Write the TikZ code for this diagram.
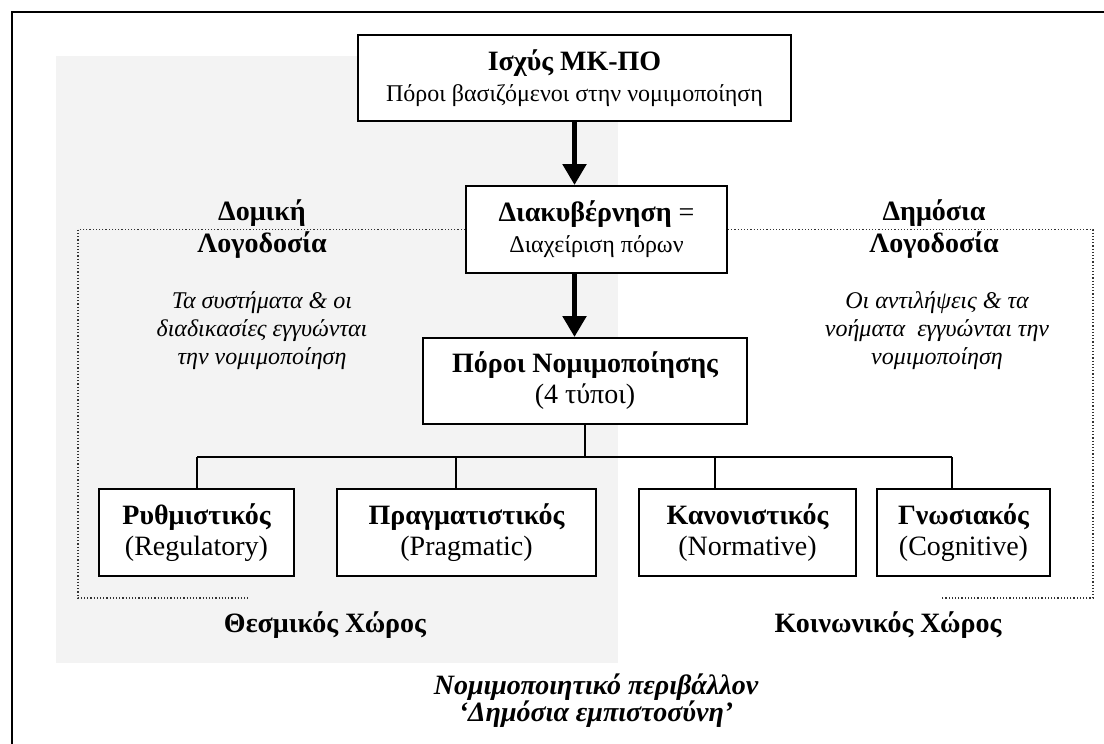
\documentclass[tikz,border=0pt]{standalone}
\usepackage{fontspec}
\setmainfont{Liberation Serif}
\usetikzlibrary{arrows.meta}
\definecolor{zonegray}{HTML}{F3F3F3}
\newcommand{\subline}{\fontsize{12}{15.5}\selectfont}

\begin{document}
\begin{tikzpicture}[x=0.5pt,y=-0.5pt,
  box/.style={draw,line width=1pt,fill=white,align=center,inner sep=0pt,
    font=\fontsize{14}{15.5}\selectfont},
  type box/.style={box,minimum width=#1,minimum height=43.5pt},
  head/.style={align=center,font=\fontsize{14}{16}\selectfont\bfseries},
  note/.style={align=center,font=\fontsize{12}{14}\selectfont\itshape},
  big arrow/.style={line width=2.6pt,-{Triangle[width=11.5pt,length=10.5pt]}},
  link/.style={line width=0.8pt}]

  \tikzstyle{dotline} = [densely dotted,line width=0.6pt,black!80]

  \useasboundingbox (0,0) rectangle (1104,744);

  % frame and institutional zone
  \draw[line width=1pt] (12,744) -- (12,12) -- (1104,12);
  \fill[zonegray] (56,56) rectangle (618,663);

  \node[box,minimum width=216.5pt,minimum height=43pt] (ischys) at (574.5,78)
    {{\bfseries Ισχύς ΜΚ-ΠΟ}\\{\subline Πόροι βασιζόμενοι στην νομιμοποίηση}};
  \node[box,minimum width=130.5pt,minimum height=43.5pt] (diak) at (596.5,229.5)
    {{\bfseries Διακυβέρνηση} =\\{\subline Διαχείριση πόρων}};
  \node[box,minimum width=162pt,minimum height=43pt] (poroi) at (585,381)
    {{\bfseries Πόροι Νομιμοποίησης}\\(4 τύποι)};

  \node[type box=97.5pt] (rythm) at (196.5,532.5) {{\bfseries Ρυθμιστικός}\\(Regulatory)};
  \node[type box=129.5pt] (pragm) at (466.5,532.5) {{\bfseries Πραγματιστικός}\\(Pragmatic)};
  \node[type box=108.5pt] (kanon) at (747.5,532.5) {{\bfseries Κανονιστικός}\\(Normative)};
  \node[type box=86.5pt] (gnos) at (963.5,532.5) {{\bfseries Γνωσιακός}\\(Cognitive)};

  % dotted accountability frames
  \draw[dotline] (diak.west) -- (78,229.5) -- (78,598) -- (248,598);
  \draw[dotline] (diak.east) -- (1093,229.5) -- (1093,598) -- (941,598);

  \node[head] (domiki) at (262,229) {Δομική\\Λογοδοσία};
  \node[head] (dimosia) at (934,229) {Δημόσια\\Λογοδοσία};
  \node[note] (systimata) at (262,331) {Τα συστήματα \& οι\\διαδικασίες εγγυώνται\\την νομιμοποίηση};
  \node[note] (antilipseis) at (937,331) {Οι αντιλήψεις \& τα\\νοήματα~ εγγυώνται την\\νομιμοποίηση};

  \node[head] (thesmikos) at (325,625) {Θεσμικός Χώρος};
  \node[head] (koinonikos) at (888,625) {Κοινωνικός Χώρος};
  \node[align=center,font=\fontsize{14}{13.5}\selectfont\bfseries\itshape] (perivallon) at (596,701)
    {Νομιμοποιητικό περιβάλλον\\‘Δημόσια εμπιστοσύνη’};

  % arrows
  \draw[big arrow] (ischys) -- (ischys |- diak.north);
  \draw[big arrow] (diak.south -| ischys) -- (poroi.north -| ischys);

  % tree to the four types
  \coordinate (b1) at (197,457);
  \coordinate (b2) at (456,457);
  \coordinate (b3) at (715,457);
  \coordinate (b4) at (952,457);
  \draw[link] (poroi.south) -- (poroi.south |- b1);
  \draw[link] (b1) -- (b4);
  \draw[link] (b1) -- (b1 |- rythm.north);
  \draw[link] (b2) -- (b2 |- pragm.north);
  \draw[link] (b3) -- (b3 |- kanon.north);
  \draw[link] (b4) -- (b4 |- gnos.north);
\end{tikzpicture}
\end{document}
